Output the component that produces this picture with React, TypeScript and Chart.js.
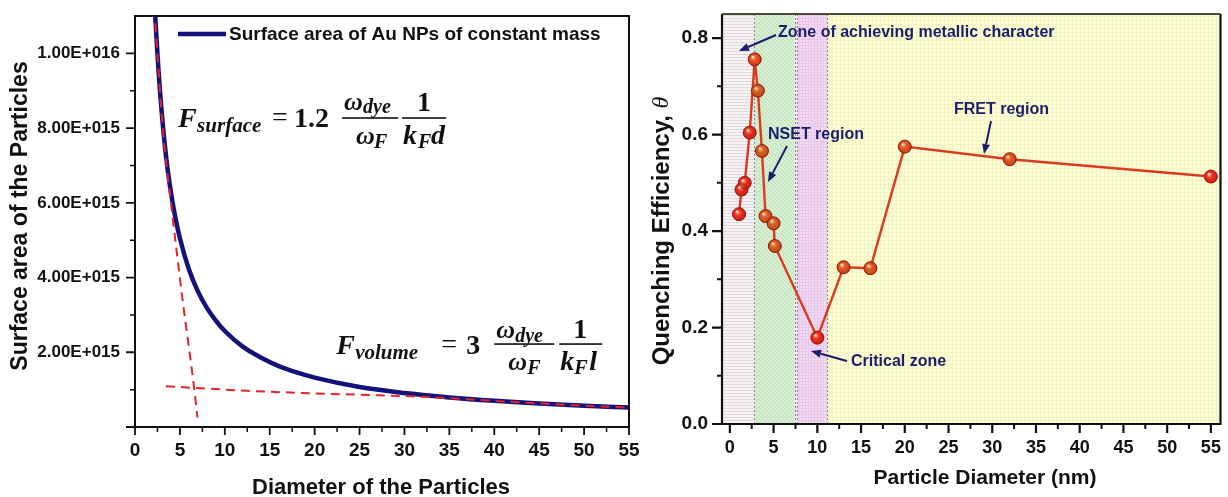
import React, { useEffect, useRef } from 'react';
import { Chart, registerables } from 'chart.js';
Chart.register(...registerables);

// ---------- Left chart data ----------
const diameterNm = [2.2, 2.6, 3.0, 3.5, 4, 4.5, 5, 6, 7, 8, 9, 10, 12, 14, 16, 18, 20, 25, 30, 35, 40, 45, 50, 55];
const surfaceArea = [1.12e16, 9.6e15, 8.35e15, 7.15e15, 6.28e15, 5.6e15, 5.05e15, 4.22e15, 3.63e15, 3.19e15, 2.85e15, 2.57e15, 2.15e15, 1.86e15, 1.63e15, 1.46e15, 1.32e15, 1.07e15, 0.91e15, 0.79e15, 0.7e15, 0.63e15, 0.57e15, 0.52e15];
const surfaceFitX = [2.15, 3.1, 4.2, 5.3, 6.57, 6.95];
const surfaceFitY = [1.12e16, 8.0e15, 5.6e15, 3.4e15, 1.07e15, 0.25e15];
const volumeFitX = [3.45, 12.5, 20, 27, 32, 40, 45, 50, 55];
const volumeFitY = [1.09e15, 0.97e15, 0.9e15, 0.85e15, 0.81e15, 0.7e15, 0.63e15, 0.57e15, 0.52e15];
const leftXTicks = [0, 5, 10, 15, 20, 25, 30, 35, 40, 45, 50, 55];
const leftYTicks = [0, 2e15, 4e15, 6e15, 8e15, 1e16];
const legendLabel = 'Surface area of Au NPs of constant mass';

// ---------- Right chart data ----------
const particleDiameter = [1.05, 1.33, 1.7, 2.27, 2.84, 3.2, 3.67, 4.08, 5.0, 5.14, 10.0, 13.0, 16.07, 20.0, 32.0, 55.0];
const quenchingEff = [0.435, 0.486, 0.5, 0.604, 0.756, 0.691, 0.566, 0.431, 0.416, 0.369, 0.179, 0.325, 0.323, 0.575, 0.549, 0.513];
const zoneBounds = [-0.9, 2.8, 7.4, 7.7, 11.1, 56.1];
const rightXTicks = [0, 5, 10, 15, 20, 25, 30, 35, 40, 45, 50, 55];
const rightYTicks = [0, 0.2, 0.4, 0.6, 0.8];

const pointTints = ['#e4261c', '#e4261c', '#e4261c', '#e4261c', '#dc4a1c', '#cf5a1e', '#cf5a1e', '#cf5a1e', '#cf5a1e', '#cf5a1e', '#e4261c', '#d9521c', '#d9521c', '#d9521c', '#d9521c', '#e4261c'];

const SANS = '"Liberation Sans", Arial, sans-serif';
const SERIF = '"Liberation Serif", "Times New Roman", serif';
const NAVY = '#1c1c6c';

const mids = (a: number[]) => a.slice(1).map((v, i) => (v + a[i]) / 2);

function drawTicks(chart: any, axis: 'x' | 'y', values: number[], len: number, lw: number) {
  const s = chart.scales[axis];
  const ctx = chart.ctx;
  const a = chart.chartArea;
  ctx.save();
  ctx.strokeStyle = '#111';
  ctx.lineWidth = lw;
  ctx.beginPath();
  for (const v of values) {
    if (axis === 'x') {
      const px = s.getPixelForValue(v);
      ctx.moveTo(px, a.bottom);
      ctx.lineTo(px, a.bottom + len);
    } else {
      const py = s.getPixelForValue(v);
      ctx.moveTo(a.left, py);
      ctx.lineTo(a.left - len, py);
    }
  }
  ctx.stroke();
  ctx.restore();
}

function text(ctx: CanvasRenderingContext2D, t: string, x: number, y: number, font: string, color: string, align: CanvasTextAlign = 'left', rot = 0) {
  ctx.save();
  ctx.translate(x, y);
  if (rot) ctx.rotate(rot);
  ctx.font = font;
  ctx.fillStyle = color;
  ctx.textAlign = align;
  ctx.textBaseline = 'middle';
  ctx.fillText(t, 0, 0);
  ctx.restore();
}

type Piece = { t?: string; dx: number; dy?: number; f?: string; c?: boolean; bar?: [number, number] };

function drawPieces(ctx: CanvasRenderingContext2D, ax: number, ay: number, pieces: Piece[]) {
  ctx.save();
  ctx.fillStyle = '#111';
  ctx.textBaseline = 'alphabetic';
  for (const p of pieces) {
    if (p.bar) {
      ctx.fillRect(ax + p.bar[0], ay - 0.8, p.bar[1] - p.bar[0], 1.6);
    } else if (p.t) {
      ctx.font = p.f!;
      ctx.textAlign = p.c ? 'center' : 'left';
      ctx.fillText(p.t, ax + p.dx, ay + (p.dy || 0));
    }
  }
  ctx.restore();
}

const BI28 = `bold italic 28px ${SERIF}`;
const BI26 = `bold italic 26px ${SERIF}`;
const BI21 = `bold italic 21px ${SERIF}`;
const BI20 = `bold italic 20px ${SERIF}`;
const B28 = `bold 28px ${SERIF}`;
const R28 = `28px ${SERIF}`;

const surfaceFormula: Piece[] = [
  { t: 'F', dx: 0, dy: 9, f: BI28 },
  { t: 'surface', dx: 19, dy: 14, f: BI21 },
  { t: '=', dx: 94, dy: 8, f: R28 },
  { t: '1.2', dx: 116, dy: 9, f: B28 },
  { bar: [164, 220], dx: 0 },
  { t: 'ω', dx: 166, dy: -8, f: BI26 },
  { t: 'dye', dx: 185, dy: -5, f: BI20 },
  { t: 'ω', dx: 178, dy: 26, f: BI26 },
  { t: 'F', dx: 196, dy: 30, f: BI20 },
  { bar: [224, 268], dx: 0 },
  { t: '1', dx: 246, dy: -7, f: B28, c: true },
  { t: 'k', dx: 225, dy: 26, f: BI28 },
  { t: 'F', dx: 240, dy: 30, f: BI20 },
  { t: 'd', dx: 253, dy: 26, f: BI28 },
];

const volumeFormula: Piece[] = [
  { t: 'F', dx: 0, dy: 10, f: BI28 },
  { t: 'volume', dx: 19, dy: 15, f: BI21 },
  { t: '=', dx: 105, dy: 9, f: R28 },
  { t: '3', dx: 130, dy: 10, f: B28 },
  { bar: [158, 218], dx: 0 },
  { t: 'ω', dx: 160, dy: -6, f: BI26 },
  { t: 'dye', dx: 179, dy: -2, f: BI20 },
  { t: 'ω', dx: 172, dy: 26, f: BI26 },
  { t: 'F', dx: 191, dy: 30, f: BI20 },
  { bar: [223, 266], dx: 0 },
  { t: '1', dx: 244, dy: -6, f: B28, c: true },
  { t: 'k', dx: 224, dy: 26, f: BI28 },
  { t: 'F', dx: 238, dy: 30, f: BI20 },
  { t: 'l', dx: 253, dy: 26, f: BI28 },
];

function fmtSci(v: number) {
  if (v <= 0) return '';
  const e = Math.floor(Math.log10(v) + 1e-9);
  const m = v / Math.pow(10, e);
  return `${m.toFixed(2)}E+${String(e).padStart(3, '0')}`;
}

const leftPlugin = {
  id: 'leftDecor',
  afterDatasetsDraw(chart: any) {
    const ctx = chart.ctx as CanvasRenderingContext2D;
    const a = chart.chartArea;
    const xs = chart.scales.x, ys = chart.scales.y;
    ctx.save();
    ctx.strokeStyle = '#111';
    ctx.lineWidth = 2;
    ctx.strokeRect(a.left, a.top, a.right - a.left, a.bottom - a.top);
    ctx.restore();
    drawTicks(chart, 'x', leftXTicks, 8, 1.8);
    drawTicks(chart, 'x', mids(leftXTicks), 5, 1.5);
    drawTicks(chart, 'y', leftYTicks, 9, 1.8);
    drawTicks(chart, 'y', mids(leftYTicks), 5, 1.5);
    ctx.save();
    ctx.strokeStyle = '#12127a';
    ctx.lineWidth = 4.5;
    ctx.beginPath();
    ctx.moveTo(178, 34);
    ctx.lineTo(226, 34);
    ctx.stroke();
    ctx.restore();
    text(ctx, legendLabel, 229, 35, `bold 19px ${SANS}`, '#111');
    drawPieces(ctx, xs.getPixelForValue(4.8), ys.getPixelForValue(8.27e15), surfaceFormula);
    drawPieces(ctx, xs.getPixelForValue(22.4), ys.getPixelForValue(2.22e15), volumeFormula);
    text(ctx, 'Diameter of the Particles', 381, 488, `bold 22px ${SANS}`, '#111', 'center');
    text(ctx, 'Surface area of the Particles', 21, 216, `bold 23px ${SANS}`, '#111', 'center', -Math.PI / 2);
  },
};

function makePattern(ctx: CanvasRenderingContext2D, w: number, h: number, bg: string, fg: string, kind: string) {
  const c = document.createElement('canvas');
  c.width = w; c.height = h;
  const g = c.getContext('2d')!;
  g.fillStyle = bg;
  g.fillRect(0, 0, w, h);
  g.fillStyle = fg;
  if (kind === 'h') g.fillRect(0, 0, w, 1);
  if (kind === 'grid') { g.fillRect(0, 0, w, 1); g.fillRect(0, 0, 1, h); }
  if (kind === 'check') { g.fillRect(0, 0, 1, 1); g.fillRect(2, 2, 1, 1); g.fillRect(1, 1, 1, 1); g.fillRect(3, 3, 1, 1); }
  return ctx.createPattern(c, 'repeat')!;
}

function arrow(ctx: CanvasRenderingContext2D, x1: number, y1: number, x2: number, y2: number) {
  const ang = Math.atan2(y2 - y1, x2 - x1);
  const hl = 10, hw = 4;
  const bx = x2 - hl * Math.cos(ang), by = y2 - hl * Math.sin(ang);
  ctx.save();
  ctx.strokeStyle = NAVY;
  ctx.fillStyle = NAVY;
  ctx.lineWidth = 2;
  ctx.beginPath();
  ctx.moveTo(x1, y1);
  ctx.lineTo(bx, by);
  ctx.stroke();
  ctx.beginPath();
  ctx.moveTo(x2, y2);
  ctx.lineTo(bx + hw * Math.sin(ang), by - hw * Math.cos(ang));
  ctx.lineTo(bx - hw * Math.sin(ang), by + hw * Math.cos(ang));
  ctx.closePath();
  ctx.fill();
  ctx.restore();
}

const OFF = 640;

const rightPlugin = {
  id: 'rightDecor',
  beforeDatasetsDraw(chart: any) {
    const ctx = chart.ctx as CanvasRenderingContext2D;
    const a = chart.chartArea;
    const xs = chart.scales.x;
    const fills = [
      makePattern(ctx, 4, 3, '#f6f3f5', '#e0d8de', 'h'),
      makePattern(ctx, 4, 4, '#d6eed2', '#bfdfba', 'check'),
      makePattern(ctx, 3, 3, '#eeeaf0', '#e0dbe2', 'h'),
      makePattern(ctx, 3, 3, '#f5daf5', '#e8c8e8', 'grid'),
      makePattern(ctx, 4, 4, '#fdfdd3', '#f3f3c3', 'grid'),
    ];
    ctx.save();
    for (let i = 0; i < zoneBounds.length - 1; i++) {
      const x1 = xs.getPixelForValue(zoneBounds[i]);
      const x2 = xs.getPixelForValue(zoneBounds[i + 1]);
      ctx.fillStyle = fills[i];
      ctx.fillRect(x1, a.top, x2 - x1, a.bottom - a.top);
    }
    ctx.strokeStyle = '#8a8a8a';
    ctx.lineWidth = 1;
    ctx.setLineDash([2, 2]);
    for (let i = 1; i < zoneBounds.length - 1; i++) {
      const x = Math.round(xs.getPixelForValue(zoneBounds[i])) + 0.5;
      ctx.beginPath();
      ctx.moveTo(x, a.top);
      ctx.lineTo(x, a.bottom);
      ctx.stroke();
    }
    ctx.restore();
  },
  afterDatasetsDraw(chart: any) {
    const ctx = chart.ctx as CanvasRenderingContext2D;
    const a = chart.chartArea;
    const meta = chart.getDatasetMeta(0);
    ctx.save();
    for (const el of meta.data) {
      const x = el.x, y = el.y;
      const g = ctx.createRadialGradient(x - 2, y - 2.5, 0.5, x, y, 6.5);
      g.addColorStop(0, 'rgba(255,230,210,0.95)');
      g.addColorStop(0.35, 'rgba(255,160,120,0.25)');
      g.addColorStop(0.75, 'rgba(150,20,0,0.05)');
      g.addColorStop(1, 'rgba(110,10,0,0.45)');
      ctx.fillStyle = g;
      ctx.beginPath();
      ctx.arc(x, y, 6.5, 0, Math.PI * 2);
      ctx.fill();
    }
    ctx.restore();
    ctx.save();
    ctx.strokeStyle = '#111';
    ctx.lineWidth = 2.2;
    ctx.beginPath();
    ctx.moveTo(a.left, a.top);
    ctx.lineTo(a.left, a.bottom);
    ctx.lineTo(a.right, a.bottom);
    ctx.lineTo(a.right, a.top);
    ctx.stroke();
    ctx.strokeStyle = '#4a4a3a';
    ctx.beginPath();
    ctx.moveTo(a.left, a.top);
    ctx.lineTo(a.right, a.top);
    ctx.stroke();
    ctx.restore();
    drawTicks(chart, 'x', rightXTicks, 9, 2.2);
    drawTicks(chart, 'x', mids(rightXTicks), 5, 2);
    drawTicks(chart, 'y', rightYTicks, 10, 2.2);
    drawTicks(chart, 'y', mids(rightYTicks), 5, 2);
    const F = `bold 16px ${SANS}`;
    text(ctx, 'Zone of achieving metallic character', 778 - OFF, 33, F, NAVY);
    arrow(ctx, 776 - OFF, 35, 739 - OFF, 51);
    text(ctx, 'NSET region', 768 - OFF, 135, F, NAVY);
    arrow(ctx, 787 - OFF, 146, 768 - OFF, 182);
    text(ctx, 'FRET region', 954 - OFF, 110, F, NAVY);
    arrow(ctx, 991 - OFF, 121, 984 - OFF, 154);
    text(ctx, 'Critical zone', 851 - OFF, 362, F, NAVY);
    arrow(ctx, 847 - OFF, 361, 811 - OFF, 351);
    text(ctx, 'Particle Diameter (nm)', 985 - OFF, 478, `bold 21px ${SANS}`, '#111', 'center');
    ctx.save();
    ctx.translate(662 - OFF, 231);
    ctx.rotate(-Math.PI / 2);
    ctx.textBaseline = 'middle';
    ctx.fillStyle = '#111';
    const t1 = 'Quenching Efficiency, ';
    ctx.font = `bold 24px ${SANS}`;
    const w1 = ctx.measureText(t1).width;
    ctx.font = `italic 24px ${SERIF}`;
    const w2 = ctx.measureText('θ').width;
    const start = -(w1 + w2) / 2;
    ctx.font = `bold 24px ${SANS}`;
    ctx.textAlign = 'left';
    ctx.fillText(t1, start, 0);
    ctx.font = `italic 24px ${SERIF}`;
    ctx.fillText('θ', start + w1, 0);
    ctx.restore();
  },
};

function axisGrid(len: number) {
  return { display: false, drawTicks: true, tickLength: len };
}

const zeroSidePadding = (s: any, h: number) => {
  s.height = h;
  s.paddingLeft = 0;
  s.paddingRight = 0;
};

function leftConfig(): any {
  return {
    type: 'line',
    data: {
      datasets: [
        {
          data: surfaceFitX.map((x, i) => ({ x, y: surfaceFitY[i] })),
          borderColor: '#e3242b', borderWidth: 2, borderDash: [9, 6], pointRadius: 0, fill: false, clip: 0,
          cubicInterpolationMode: 'monotone',
        },
        {
          data: volumeFitX.map((x, i) => ({ x, y: volumeFitY[i] })),
          borderColor: '#e3242b', borderWidth: 2, borderDash: [9, 6], pointRadius: 0, fill: false, clip: 0,
          cubicInterpolationMode: 'monotone',
        },
        {
          data: diameterNm.map((x, i) => ({ x, y: surfaceArea[i] })),
          borderColor: '#12127a', borderWidth: 4.5, pointRadius: 0, fill: false, clip: 0,
          cubicInterpolationMode: 'monotone',
        },
      ],
    },
    options: {
      responsive: false,
      animation: false,
      devicePixelRatio: 1,
      layout: { padding: { left: 0, top: 16, right: 11, bottom: 0 } },
      plugins: { legend: { display: false }, tooltip: { enabled: false } },
      scales: {
        x: {
          type: 'linear', min: 0, max: 55,
          grid: axisGrid(12), border: { display: false },
          afterBuildTicks: (s: any) => { s.ticks = leftXTicks.map((v) => ({ value: v })); },
          afterFit: (s: any) => zeroSidePadding(s, 70),
          ticks: { autoSkip: false, maxRotation: 0, padding: 0, color: '#111', font: { family: SANS, size: 19, weight: 'bold' }, callback: (v: any) => String(v) },
        },
        y: {
          type: 'linear', min: 0, max: 1.1e16,
          grid: axisGrid(15), border: { display: false },
          afterBuildTicks: (s: any) => { s.ticks = leftYTicks.map((v) => ({ value: v })); },
          afterFit: (s: any) => { s.width = 135; },
          ticks: { autoSkip: false, padding: 0, color: '#111', font: { family: SANS, size: 17, weight: 'bold' }, callback: (v: any) => fmtSci(Number(v)) },
        },
      },
    },
    plugins: [leftPlugin],
  };
}

function rightConfig(): any {
  return {
    type: 'line',
    data: {
      datasets: [
        {
          data: particleDiameter.map((x, i) => ({ x, y: quenchingEff[i] })),
          borderColor: '#dc3a1e', borderWidth: 2.4, fill: false, clip: 0,
          pointRadius: 6.5, pointBorderWidth: 1,
          pointBackgroundColor: pointTints, pointBorderColor: '#a3200f',
        },
      ],
    },
    options: {
      responsive: false,
      animation: false,
      devicePixelRatio: 1,
      layout: { padding: { left: 0, top: 14, right: 3, bottom: 0 } },
      plugins: { legend: { display: false }, tooltip: { enabled: false } },
      scales: {
        x: {
          type: 'linear', min: -0.9, max: 56.1,
          grid: axisGrid(13), border: { display: false },
          afterBuildTicks: (s: any) => { s.ticks = rightXTicks.map((v) => ({ value: v })); },
          afterFit: (s: any) => zeroSidePadding(s, 73),
          ticks: { autoSkip: false, maxRotation: 0, padding: 0, color: '#111', font: { family: SANS, size: 18, weight: 'bold' }, callback: (v: any) => String(v) },
        },
        y: {
          type: 'linear', min: 0, max: 0.85,
          grid: axisGrid(14), border: { display: false },
          afterBuildTicks: (s: any) => { s.ticks = rightYTicks.map((v) => ({ value: v })); },
          afterFit: (s: any) => { s.width = 82; },
          ticks: { autoSkip: false, padding: 0, color: '#111', font: { family: SANS, size: 19, weight: 'bold' }, callback: (v: any) => Number(v).toFixed(1) },
        },
      },
    },
    plugins: [rightPlugin],
  };
}

export default function App() {
  const leftRef = useRef<HTMLCanvasElement>(null);
  const rightRef = useRef<HTMLCanvasElement>(null);
  useEffect(() => {
    const l = new Chart(leftRef.current!, leftConfig());
    const r = new Chart(rightRef.current!, rightConfig());
    return () => { l.destroy(); r.destroy(); };
  }, []);
  return (
    <div style={{ position: 'absolute', left: 0, top: 0, width: 1228, height: 497, background: '#fff', overflow: 'hidden' }}>
      <canvas ref={leftRef} width={640} height={497} style={{ position: 'absolute', left: 0, top: 0, width: 640, height: 497 }} />
      <canvas ref={rightRef} width={588} height={497} style={{ position: 'absolute', left: 640, top: 0, width: 588, height: 497 }} />
    </div>
  );
}
